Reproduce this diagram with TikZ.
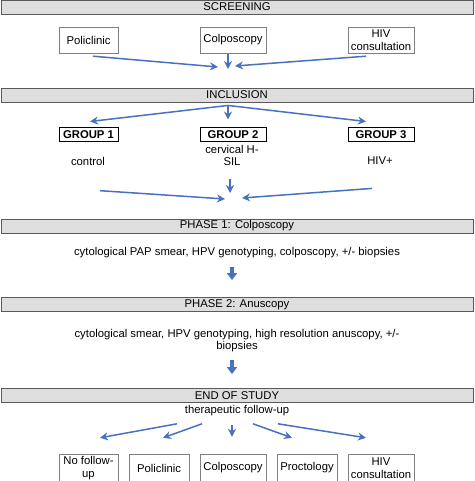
\documentclass[tikz,border=0pt]{standalone}
\usepackage{fontspec}
\setmainfont{Liberation Sans}
\usepackage{xcolor}
\usetikzlibrary{arrows.meta}
\definecolor{flowblue}{RGB}{70,114,192}
\definecolor{bandgray}{RGB}{222,222,222}
\definecolor{bandline}{RGB}{90,90,90}

\begin{document}
\begin{tikzpicture}[x=1pt,y=-1pt,
    every node/.style={font=\fontsize{11.3}{12.5}\selectfont},
    band/.style={draw=bandline, fill=bandgray, line width=0.9pt, minimum width=472pt, minimum height=14pt, inner sep=0pt},
    site/.style={draw=gray, minimum height=26pt, inner sep=1pt, align=center},
    group/.style={draw=black, line width=1pt, minimum height=14pt, inner sep=0pt, font=\fontsize{11.3}{12.5}\selectfont\bfseries},
    flow/.style={draw=flowblue, line width=1.5pt, -{Stealth[length=8pt,width=8pt]}},
    fat/.style={draw=flowblue, line width=3.2pt, -{Triangle[length=7pt,width=10pt]}}]
\useasboundingbox (0,0) rectangle (474,481);

    % the phase bands
    \node[band] (scr) at (237,7) {SCREENING};
    \node[band] (inc) at (237,95) {INCLUSION};
    \node[band] (ph1) at (237,226) {PHASE 1: Colposcopy};
    \node[band] (ph2) at (237,304.5) {PHASE 2: Anuscopy};
    \node[band] (eos) at (237,395.5) {END OF STUDY};

    % screening
    \node[site, minimum width=59pt] (pol) at (88.5,40) {Policlinic};
    \node[site, minimum width=66pt] (col) at (233,40) {Colposcopy};
    \node[site, minimum width=66pt] (hiv) at (381,40) {HIV\\consultation};
    \coordinate (s1) at (228,69);

    % groups
    \node[group, minimum width=59pt] (g1) at (88.5,135) {GROUP 1};
    \node[group, minimum width=66pt] (g2) at (233,135) {GROUP 2};
    \node[group, minimum width=66pt] (g3) at (381,135) {GROUP 3};
    \node (d1) at (88,161) {control};
    \node[align=center] (d2) at (232,155.5) {cervical H-\\SIL};
    \node (d3) at (380,161) {HIV+};
    \coordinate (s2) at (233,199);

    % phases
    \node (t1) at (237,253) {cytological PAP smear, HPV genotyping, colposcopy, +/- biopsies};
    \node[align=center] (t2) at (237,340.5) {cytological smear, HPV genotyping, high resolution anuscopy, +/-\\biopsies};
    \node (fu) at (237,411) {therapeutic follow-up};

    % end of study
    \node[site, minimum width=59pt, minimum height=28pt] (e1) at (88.5,468) {No follow-\\up};
    \node[site, minimum width=60pt, minimum height=28pt] (e2) at (159,468) {Policlinic};
    \node[site, minimum width=66pt, minimum height=28pt] (e3) at (233,468) {Colposcopy};
    \node[site, minimum width=60pt, minimum height=28pt] (e4) at (307,468) {Proctology};
    \node[site, minimum width=66pt, minimum height=28pt] (e5) at (381,468) {HIV\\consultation};

    % draw the arrows
    \draw[flow] ([xshift=4.5pt,yshift=-3pt]pol.south) -- ([xshift=-10pt,yshift=2pt]s1);
    \draw[flow] ([xshift=-5pt,yshift=-1pt]col.south) -- (s1);
    \draw[flow] ([xshift=-15pt,yshift=-3pt]hiv.south) -- ([xshift=7pt,yshift=3pt]s1);

    \draw[flow] ([xshift=-9pt,yshift=-3pt]inc.south) -- ([xshift=1.5pt,yshift=6pt]g1.north);
    \draw[flow] ([xshift=-9pt,yshift=-3pt]inc.south) -- ([xshift=-5pt,yshift=8pt]g2.north);
    \draw[flow] ([xshift=-9pt,yshift=-3pt]inc.south) -- ([xshift=-15pt,yshift=6pt]g3.north);

    \draw[flow] ([xshift=12pt,yshift=-22pt]d1.south) -- ([xshift=-8pt]s2);
    \draw[flow] ([xshift=-2pt,yshift=-10pt]d2.south) -- ([xshift=-3pt,yshift=6pt]s2);
    \draw[flow] ([xshift=-8pt,yshift=-20pt]d3.south) -- ([xshift=9pt,yshift=1pt]s2);

    \draw[fat] ([xshift=-5pt,yshift=-5pt]t1.south) -- ([xshift=-5pt,yshift=17pt]ph2.north);
    \draw[fat] ([xshift=-5pt,yshift=-4pt]t2.south) -- ([xshift=-5pt,yshift=14pt]eos.north);

    \draw[flow] ([xshift=-60pt,yshift=-4pt]fu.south) -- ([xshift=11.5pt,yshift=16pt]e1.north);
    \draw[flow] ([xshift=-35pt,yshift=-4pt]fu.south) -- ([xshift=4pt,yshift=16pt]e2.north);
    \draw[flow] ([xshift=-5pt,yshift=-5pt]fu.south) -- ([xshift=-1pt,yshift=17pt]e3.north);
    \draw[flow] ([xshift=16pt,yshift=-4pt]fu.south) -- ([xshift=-15pt,yshift=16pt]e4.north);
    \draw[flow] ([xshift=41pt,yshift=-4pt]fu.south) -- ([xshift=-15pt,yshift=16pt]e5.north);

\end{tikzpicture}
\end{document}
